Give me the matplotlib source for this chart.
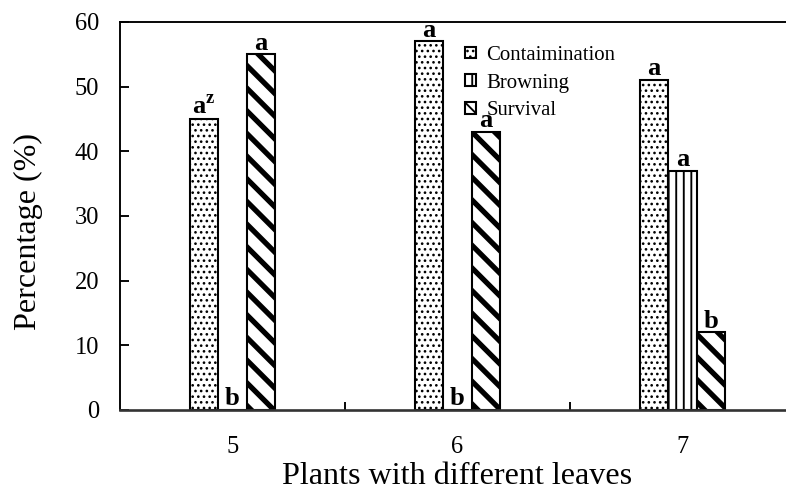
import matplotlib
matplotlib.use("Agg")
import matplotlib.pyplot as plt
import numpy as np

groups = ["5", "6", "7"]
series = ["Contaimination", "Browning", "Survival"]
contamination = [45, 57, 51]
browning = [0, 0, 37]
survival = [55, 43, 12]
letters_cont = ["a$^{\\mathbf{z}}$", "a", "a"]
letters_brown = ["b", "b", "a"]
letters_surv = ["a", "a", "b"]

DPI = 136
plt.rcParams["font.family"] = ["Liberation Serif", "DejaVu Serif"]
plt.rcParams["mathtext.fontset"] = "custom"
plt.rcParams["mathtext.bf"] = "Liberation Serif:bold"
plt.rcParams["mathtext.rm"] = "Liberation Serif"

fig = plt.figure(figsize=(786 / DPI, 497 / DPI), dpi=DPI)
ax = fig.add_axes([120 / 786, 87 / 497, 675 / 786, 388 / 497])

x = np.arange(len(groups))
w = 0.127
styles = [("....", 0.8), ("|||", 1.0), ("\\\\", 2.8)]
vals = [contamination, browning, survival]
labs = [letters_cont, letters_brown, letters_surv]
for i, (v, (h, hlw), lab) in enumerate(zip(vals, styles, labs)):
    plt.rcParams["hatch.linewidth"] = hlw
    bars = ax.bar(x + (i - 1) * w, v, w, facecolor="white", edgecolor="black",
                  linewidth=1.1, hatch=h, label=series[i], zorder=2)
    for b in bars:
        if hasattr(b, "set_hatch_linewidth"):
            b.set_hatch_linewidth(hlw)
    for xi, vi, t in zip(x + (i - 1) * w, v, lab):
        ax.annotate(t, (xi, vi), xytext=(0, 2.5), textcoords="offset points",
                    ha="center", va="baseline", fontsize=14, fontweight="bold")

ax.set_xlim(-0.5, 2.5)
ax.set_ylim(0, 60)
ax.set_yticks(np.arange(0, 61, 10))
ax.tick_params(axis="y", direction="in", length=5, width=1, pad=11, labelsize=13)
ax.set_xticks(x)
ax.set_xticklabels(groups)
ax.tick_params(axis="x", which="major", length=0, pad=14, labelsize=13)
ax.set_xticks([0.5, 1.5], minor=True)
ax.tick_params(axis="x", which="minor", direction="in", length=4, width=1)
for s in ["left", "top", "right"]:
    ax.spines[s].set_linewidth(1.0)
ax.spines["bottom"].set_linewidth(1.4)
ax.spines["bottom"].set_color("#333333")

ax.set_ylabel("Percentage (%)", fontsize=17)
ax.yaxis.set_label_coords(-0.114, 0.461)
ax.set_xlabel("Plants with different leaves", fontsize=17, labelpad=2)

leg = ax.legend(loc="upper left", bbox_to_anchor=(0.499, 0.96), frameon=False,
                fontsize=11, handlelength=0.5, handleheight=0.5, handletextpad=0.53,
                labelspacing=0.42, borderaxespad=0)
for hnd, (h, hlw) in zip(leg.legend_handles, styles):
    if hasattr(hnd, "set_hatch_linewidth"):
        hnd.set_hatch_linewidth(min(hlw, 1.0))

fig.savefig("out.png", dpi=DPI)
